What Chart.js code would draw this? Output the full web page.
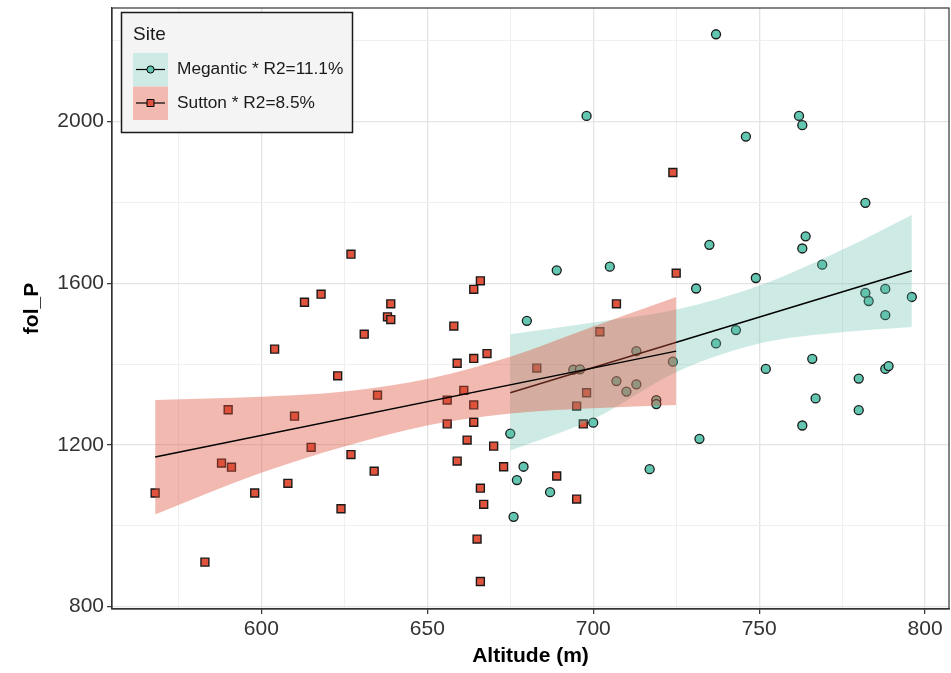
<!DOCTYPE html>
<html>
<head>
<meta charset="utf-8">
<script src="https://cdn.jsdelivr.net/npm/chart.js@4.4.0/dist/chart.umd.min.js"></script>
<style>
  html, body { margin: 0; padding: 0; background: #fff; }
  #wrap { width: 951px; height: 673px; position: relative; }
</style>
</head>
<body>
<div id="wrap"><canvas id="chart" width="951" height="673"></canvas></div>
<script>
// Megantic site (circles)
const megAlt = [689, 705, 731, 735, 680, 713, 724, 694, 696, 707, 713, 710, 719, 719, 700, 675, 732, 679, 677, 687, 717, 676,
                737, 762, 763, 746, 782, 764, 763, 769, 749, 782, 783, 788, 796, 698, 788, 743, 737, 766, 752, 780, 788, 789, 767, 780, 763];
const megP   = [1632, 1641, 1587, 1695, 1507, 1432, 1406, 1386, 1387, 1358, 1350, 1332, 1311, 1301, 1255, 1228, 1215, 1146, 1113, 1083, 1140, 1022,
                2216, 2014, 1991, 1963, 1799, 1716, 1686, 1646, 1613, 1576, 1556, 1586, 1566, 2014, 1521, 1484, 1451, 1413, 1388, 1364, 1388, 1395, 1315, 1286, 1248];

// Sutton site (squares)
const sutAlt = [627, 613, 618, 639, 638, 639, 631, 604, 623, 635, 590, 610, 615, 627, 588, 591, 634, 568, 598, 608, 624, 583,
                666, 664, 658, 668, 664, 659, 661, 656, 664, 656, 664, 662, 670, 659, 673, 666, 667, 665, 666,
                689, 695, 697, 695, 698, 683, 702, 707, 725, 724];
const sutP   = [1672, 1553, 1573, 1549, 1517, 1510, 1474, 1437, 1371, 1323, 1287, 1271, 1194, 1176, 1155, 1145, 1135, 1081, 1081, 1105, 1042, 910,
                1606, 1585, 1494, 1426, 1414, 1402, 1335, 1311, 1299, 1252, 1256, 1212, 1197, 1160, 1146, 1093, 1053, 967, 862,
                1123, 1066, 1252, 1296, 1329, 1390, 1480, 1549, 1625, 1874];

// fitted lines
const megFitAlt = [675, 796];
const megFitP   = [1329, 1631];
const sutFitAlt = [568, 725];
const sutFitP   = [1170, 1432];

// confidence bands
const megBandAlt = [675, 700, 725, 750, 775, 796];
const megLow     = [1186, 1264, 1380, 1451, 1479, 1492];
const megHigh    = [1474, 1503, 1535, 1594, 1683, 1769];
const sutBandAlt = [568, 600, 625, 651, 675, 700, 725];
const sutLow     = [1028, 1131, 1196, 1250, 1278, 1291, 1299];
const sutHigh    = [1311, 1319, 1332, 1365, 1418, 1493, 1566];

// legend
const siteNames  = ['Site', 'Megantic * R2=11.1%', 'Sutton * R2=8.5%'];

const tealFill = '#62c6b1';
const redFill  = '#e0533c';
const tealBand = 'rgba(98, 194, 172, 0.32)';
const redBand  = 'rgba(222, 80, 58, 0.40)';

const pts = (xs, ys) => xs.map((x, i) => ({ x: x, y: ys[i] }));

Chart.defaults.font.family = "'Liberation Sans', Arial, sans-serif";

// panel frame + legend
const framePlugin = {
    id: 'frame',
    afterDraw(chart) {
        const { ctx, chartArea: a } = chart;
        ctx.save();
        ctx.strokeStyle = '#333333';
        ctx.lineWidth = 1.2;
        ctx.strokeRect(a.left, a.top, a.right - a.left, a.bottom - a.top);

        // legend box
        const bx = 121.5, by = 12.5, bw = 231, bh = 120;
        ctx.fillStyle = '#f4f4f4';
        ctx.fillRect(bx, by, bw, bh);
        ctx.strokeStyle = '#1a1a1a';
        ctx.lineWidth = 1.5;
        ctx.strokeRect(bx, by, bw, bh);

        ctx.fillStyle = '#1a1a1a';
        ctx.font = "19px 'Liberation Sans', Arial, sans-serif";
        ctx.textBaseline = 'alphabetic';
        ctx.textAlign = 'left';
        ctx.fillText(siteNames[0], 133, 40);

        const keys = [
            { y: 53, band: tealBand, fill: tealFill, shape: 'circle' },
            { y: 86.5, band: redBand, fill: redFill, shape: 'rect' }
        ];
        keys.forEach((k, i) => {
            ctx.fillStyle = '#ffffff';
            ctx.fillRect(133, k.y, 35, 33.5);
            ctx.fillStyle = k.band;
            ctx.fillRect(133, k.y, 35, 33.5);
            const cy = k.y + 16.5;
            ctx.strokeStyle = '#000';
            ctx.lineWidth = 1.2;
            ctx.beginPath();
            ctx.moveTo(136, cy);
            ctx.lineTo(165, cy);
            ctx.stroke();
            ctx.fillStyle = k.fill;
            ctx.lineWidth = 1;
            ctx.beginPath();
            if (k.shape === 'circle') {
                ctx.arc(150.5, cy, 3.6, 0, Math.PI * 2);
            } else {
                ctx.rect(147, cy - 3.5, 7, 7);
            }
            ctx.fill();
            ctx.stroke();
            ctx.fillStyle = '#1a1a1a';
            ctx.font = "17.3px 'Liberation Sans', Arial, sans-serif";
            ctx.textBaseline = 'middle';
            ctx.fillText(siteNames[i + 1], 177, cy);
        });
        ctx.restore();
    }
};

new Chart(document.getElementById('chart'), {
    type: 'scatter',
    data: {
        datasets: [
            {
                label: 'Megantic', data: pts(megAlt, megP), order: 6,
                pointStyle: 'circle', pointRadius: 4.5, pointBackgroundColor: tealFill,
                pointBorderColor: '#1a1a1a', pointBorderWidth: 1.3
            },
            {
                label: 'Sutton', data: pts(sutAlt, sutP), order: 5,
                pointStyle: 'rect', pointRadius: 5.6, pointBackgroundColor: redFill,
                pointBorderColor: '#1a1a1a', pointBorderWidth: 1.4
            },
            {
                type: 'line', label: 'meg low', data: pts(megBandAlt, megLow), order: 4,
                borderWidth: 0, pointRadius: 0, fill: false, cubicInterpolationMode: 'monotone'
            },
            {
                type: 'line', label: 'meg high', data: pts(megBandAlt, megHigh), order: 4,
                borderWidth: 0, pointRadius: 0, fill: '-1', backgroundColor: tealBand, cubicInterpolationMode: 'monotone'
            },
            {
                type: 'line', label: 'meg fit', data: pts(megFitAlt, megFitP), order: 3,
                borderColor: '#000', borderWidth: 1.4, pointRadius: 0, fill: false
            },
            {
                type: 'line', label: 'sut low', data: pts(sutBandAlt, sutLow), order: 2,
                borderWidth: 0, pointRadius: 0, fill: false, cubicInterpolationMode: 'monotone'
            },
            {
                type: 'line', label: 'sut high', data: pts(sutBandAlt, sutHigh), order: 2,
                borderWidth: 0, pointRadius: 0, fill: '-1', backgroundColor: redBand, cubicInterpolationMode: 'monotone'
            },
            {
                type: 'line', label: 'sut fit', data: pts(sutFitAlt, sutFitP), order: 1,
                borderColor: '#000', borderWidth: 1.4, pointRadius: 0, fill: false
            }
        ]
    },
    options: {
        responsive: false,
        animation: false,
        layout: { autoPadding: false, padding: { left: 18, top: 8, right: 2, bottom: 0 } },
        plugins: { legend: { display: false }, tooltip: { enabled: false } },
        scales: {
            x: {
                type: 'linear', min: 555, max: 807.2,
                afterFit: s => { s.height = 64; s.paddingLeft = 0; s.paddingRight = 0; },
                border: { display: true, color: '#333333', width: 1.2 },
                grid: {
                    color: c => (c.tick && c.tick.value % 50 === 0) ? '#e4e4e4' : '#efefef',
                    lineWidth: c => (c.tick && c.tick.value % 50 === 0) ? 1.3 : 1,
                    tickColor: c => (c.tick && c.tick.value % 50 === 0) ? '#333333' : 'rgba(0,0,0,0)',
                    tickLength: 5, tickWidth: 1.2
                },
                ticks: {
                    stepSize: 25, includeBounds: false, autoSkip: false, maxRotation: 0, maxTicksLimit: 20,
                    padding: 3, color: '#333333', font: { size: 21 },
                    callback: v => (v % 50 === 0 ? String(v) : '')
                },
                title: {
                    display: true, text: 'Altitude (m)', color: '#000',
                    font: { size: 21, weight: 'bold' }, padding: { top: 0, bottom: 4 }
                }
            },
            y: {
                type: 'linear', min: 794, max: 2281,
                afterFit: s => { s.width = 94; s.paddingTop = 0; s.paddingBottom = 0; },
                border: { display: true, color: '#333333', width: 1.2 },
                grid: {
                    color: c => (c.tick && c.tick.value % 400 === 0) ? '#e4e4e4' : '#efefef',
                    lineWidth: c => (c.tick && c.tick.value % 400 === 0) ? 1.3 : 1,
                    tickColor: c => (c.tick && c.tick.value % 400 === 0) ? '#333333' : 'rgba(0,0,0,0)',
                    tickLength: 5, tickWidth: 1.2
                },
                ticks: {
                    stepSize: 200, includeBounds: false, autoSkip: false, maxTicksLimit: 20,
                    padding: 3, color: '#333333', font: { size: 21 },
                    callback: v => (v % 400 === 0 ? String(v) : '')
                },
                title: {
                    display: true, text: 'fol_P', color: '#000',
                    font: { size: 21, weight: 'bold' }, padding: { top: 2, bottom: 0 }
                }
            }
        }
    },
    plugins: [framePlugin]
});
</script>
</body>
</html>
